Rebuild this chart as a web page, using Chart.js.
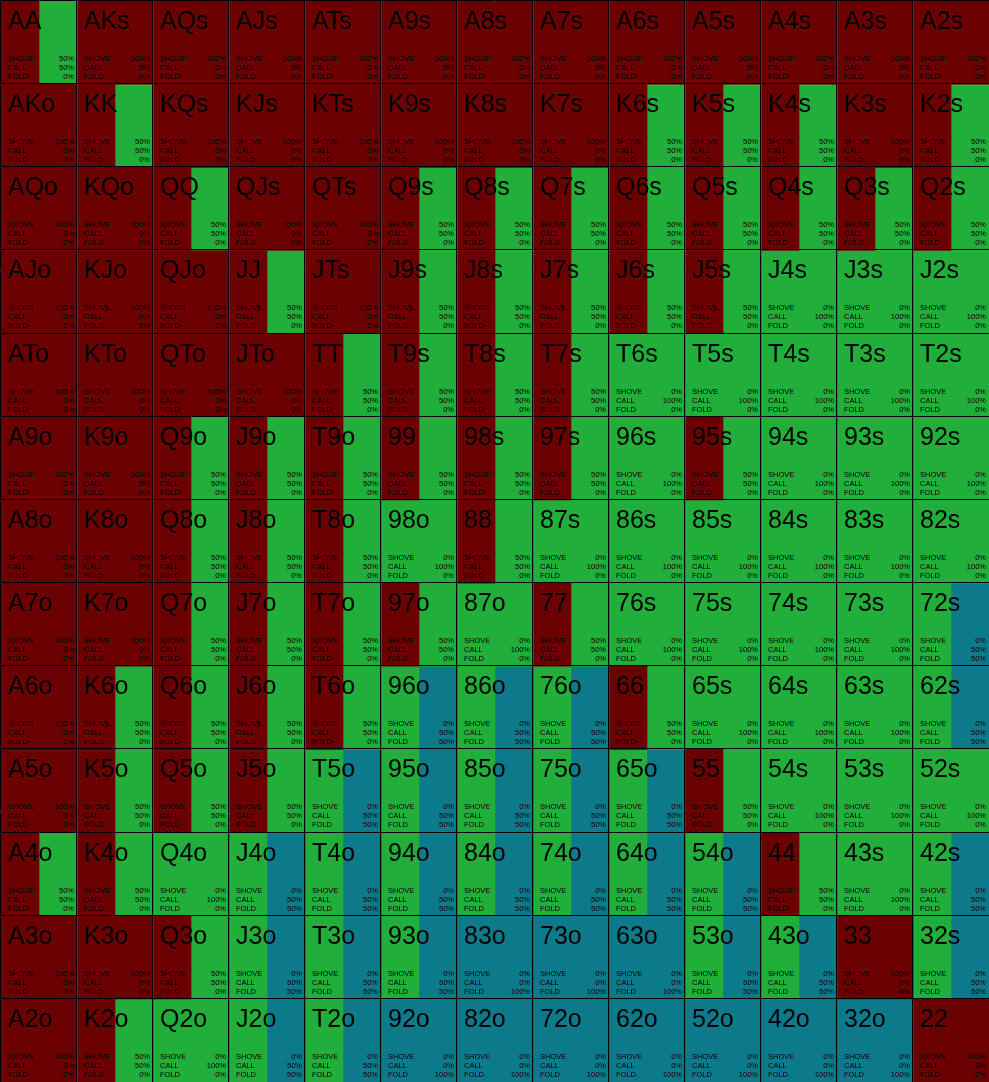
<!DOCTYPE html>
<html>
<head>
<meta charset="utf-8">
<script src="https://cdn.jsdelivr.net/npm/chart.js@4.4.1/dist/chart.umd.min.js"></script>
<style>
html,body{margin:0;padding:0;background:#fff;}
#wrap{width:989px;height:1082px;position:relative;}
</style>
</head>
<body>
<div id="wrap"><canvas id="c" width="989" height="1082"></canvas></div>
<script>
const ranks = ["A","K","Q","J","T","9","8","7","6","5","4","3","2"];
const actions = ["SHOVE","CALL","FOLD"];

const shovePct = [
  [50,100,100,100,100,100,100,100,100,100,100,100,100],
  [100,50,100,100,100,100,100,100,50,50,50,100,50],
  [100,100,50,100,100,50,50,50,50,50,50,50,50],
  [100,100,100,50,100,50,50,50,50,50,0,0,0],
  [100,100,100,100,50,50,50,50,0,0,0,0,0],
  [100,100,50,50,50,50,50,50,0,50,0,0,0],
  [100,100,50,50,50,0,50,0,0,0,0,0,0],
  [100,100,50,50,50,50,0,50,0,0,0,0,0],
  [100,50,50,50,50,0,0,0,50,0,0,0,0],
  [100,50,50,50,0,0,0,0,0,50,0,0,0],
  [50,50,0,0,0,0,0,0,0,0,50,0,0],
  [100,100,50,0,0,0,0,0,0,0,0,100,0],
  [100,50,0,0,0,0,0,0,0,0,0,0,100]
];
const callPct = [
  [50,0,0,0,0,0,0,0,0,0,0,0,0],
  [0,50,0,0,0,0,0,0,50,50,50,0,50],
  [0,0,50,0,0,50,50,50,50,50,50,50,50],
  [0,0,0,50,0,50,50,50,50,50,100,100,100],
  [0,0,0,0,50,50,50,50,100,100,100,100,100],
  [0,0,50,50,50,50,50,50,100,50,100,100,100],
  [0,0,50,50,50,100,50,100,100,100,100,100,100],
  [0,0,50,50,50,50,100,50,100,100,100,100,50],
  [0,50,50,50,50,50,50,50,50,100,100,100,50],
  [0,50,50,50,50,50,50,50,50,50,100,100,100],
  [50,50,100,50,50,50,50,50,50,50,50,100,50],
  [0,0,50,50,50,50,0,0,0,50,50,0,50],
  [0,50,100,50,50,0,0,0,0,0,0,0,0]
];
const foldPct = [
  [0,0,0,0,0,0,0,0,0,0,0,0,0],
  [0,0,0,0,0,0,0,0,0,0,0,0,0],
  [0,0,0,0,0,0,0,0,0,0,0,0,0],
  [0,0,0,0,0,0,0,0,0,0,0,0,0],
  [0,0,0,0,0,0,0,0,0,0,0,0,0],
  [0,0,0,0,0,0,0,0,0,0,0,0,0],
  [0,0,0,0,0,0,0,0,0,0,0,0,0],
  [0,0,0,0,0,0,0,0,0,0,0,0,50],
  [0,0,0,0,0,50,50,50,0,0,0,0,50],
  [0,0,0,0,50,50,50,50,50,0,0,0,0],
  [0,0,0,50,50,50,50,50,50,50,0,0,50],
  [0,0,0,50,50,50,100,100,100,50,50,0,50],
  [0,0,0,50,50,100,100,100,100,100,100,100,0]
];

const actionColors = ["#6b0000", "#21ae3a", "#0c7a8b"];
const matrices = [shovePct, callPct, foldPct];

function handLabel(r, c) {
  if (r === c) return ranks[r] + ranks[c];
  const a = ranks[Math.min(r, c)], b = ranks[Math.max(r, c)];
  return a + b + (c > r ? "s" : "o");
}

const datasets = [];
for (let c = 0; c < 13; c++) {
  for (let a = 0; a < 3; a++) {
    datasets.push({
      label: ranks[c] + " " + actions[a],
      data: ranks.map((_, r) => matrices[a][r][c] / 100),
      backgroundColor: actionColors[a],
      borderWidth: 0,
      barPercentage: 1,
      categoryPercentage: 1,
      stack: "s"
    });
  }
}

const FONT = "'Liberation Sans', Arial, sans-serif";

const gridText = {
  id: "gridText",
  afterDatasetsDraw(chart) {
    const ctx = chart.ctx;
    const xs = chart.scales.x, ys = chart.scales.y;
    const area = chart.chartArea;
    const rowH = (area.bottom - area.top) / 13;
    ctx.save();
    ctx.strokeStyle = "#000";
    ctx.lineWidth = 1;
    ctx.beginPath();
    for (let c = 0; c < 13; c++) {
      const x = Math.round(xs.getPixelForValue(c)) - 0.5;
      ctx.moveTo(x, area.top - 1); ctx.lineTo(x, area.bottom);
    }
    for (let r = 0; r < 13; r++) {
      const y = Math.round(area.top + r * rowH) - 0.5;
      ctx.moveTo(area.left - 1, y); ctx.lineTo(area.right, y);
    }
    ctx.stroke();
    ctx.fillStyle = "#000";
    for (let r = 0; r < 13; r++) {
      const top = ys.getPixelForValue(r) - rowH / 2;
      for (let c = 0; c < 13; c++) {
        const x0 = xs.getPixelForValue(c), x1 = xs.getPixelForValue(c + 1);
        ctx.font = "25px " + FONT;
        ctx.textAlign = "left";
        ctx.textBaseline = "alphabetic";
        ctx.fillText(handLabel(r, c), x0 + 7, top + 28);
        ctx.font = "7.5px " + FONT;
        for (let a = 0; a < 3; a++) {
          const y = top + 60 + a * 9;
          ctx.textAlign = "left";
          ctx.fillText(actions[a], x0 + 7, y);
          ctx.textAlign = "right";
          ctx.fillText(matrices[a][r][c] + "%", x1 - 3, y);
        }
      }
    }
    ctx.restore();
  }
};

new Chart(document.getElementById("c"), {
  type: "bar",
  data: { labels: ranks, datasets },
  options: {
    indexAxis: "y",
    responsive: false,
    animation: false,
    devicePixelRatio: 1,
    layout: { padding: { left: 1, top: 1, right: 0, bottom: 0 } },
    plugins: { legend: { display: false }, tooltip: { enabled: false } },
    scales: {
      x: { type: "linear", min: 0, max: 13, stacked: true, display: false },
      y: { type: "category", stacked: true, display: false, offset: true }
    }
  },
  plugins: [gridText]
});
</script>
</body>
</html>
